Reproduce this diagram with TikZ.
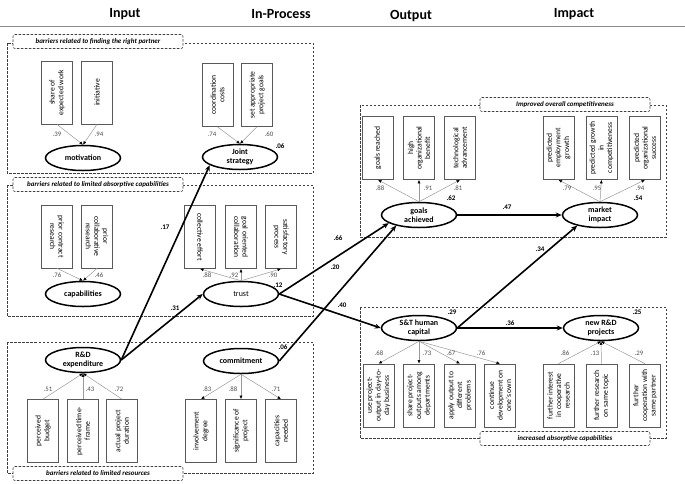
\documentclass[tikz,border=0pt]{standalone}
\usepackage{fontspec}
\setmainfont{Carlito}
\usetikzlibrary{shapes.geometric, arrows.meta, positioning}

\begin{document}
\begin{tikzpicture}[
    x=1pt, y=-1pt,
    latent/.style={draw, ellipse, line width=1.5pt, minimum width=75pt, minimum height=25pt, inner sep=0pt, align=center, font=\fontsize{8}{9}\selectfont\bfseries},
    indbase/.style={draw=black!65, line width=0.7pt, rectangle, minimum width=63pt, minimum height=31pt, inner sep=1pt, align=center, font=\fontsize{7.6}{8.6}\selectfont},
    ind/.style={indbase, rotate=90},
    indr/.style={indbase, rotate=-90},
    region/.style={draw=black!75, dash pattern=on 2.5pt off 1.5pt, line width=0.6pt},
    tag/.style={draw=black!75, dash pattern=on 2.5pt off 1.5pt, line width=0.6pt, fill=white, rounded corners=2pt, minimum width=170pt, minimum height=14pt, inner sep=1pt, font=\fontsize{7}{8}\selectfont\bfseries\itshape},
    head/.style={font=\fontsize{14}{16}\selectfont\bfseries},
    load/.style={draw=black!40, line width=0.5pt, -{Latex[length=3.5pt, width=3pt, color=black]}},
    arrow/.style={line width=1.6pt, -{Stealth[length=6pt, width=5pt]}},
    coef/.style={font=\fontsize{7}{8}\selectfont\bfseries},
    wt/.style={font=\fontsize{6.8}{7}\selectfont, text=black!70},
]
\useasboundingbox (0,0) rectangle (685,483);

% Headings
\node[head] (hin) at (125,14) {Input};
\node[head] (hproc) at (281,14) {In-Process};
\node[head] (hout) at (411,16) {Output};
\node[head] (himp) at (574,14) {Impact};
\draw[black!45, line width=0.8pt] (0,26) -- (685,26);

% Regions
\draw[region] (7,43) rectangle (313,173);
\draw[region] (7,185) rectangle (313,316);
\draw[region] (7,342) rectangle (313,473);
\draw[region] (360,105) rectangle (666,237);
\draw[region] (360,307) rectangle (666,438);
\node[tag] (tpartner) at (98,41.5) {barriers related to finding the right partner};
\node[tag] (tabsorb) at (98,184.5) {barriers related to limited absorptive capabilities};
\node[tag] (tresource) at (98,473.5) {barriers related to limited resources};
\node[tag] (tcompet) at (565,104.5) {Improved overall competitiveness};
\node[tag] (tincr) at (565,438.5) {increased absorptive capabilities};

% Latent variables
\node[latent] (mot) at (83,158) {motivation};
\node[latent] (joint) at (240,157) {Joint\\strategy};
\node[latent] (capab) at (83,294) {capabilities};
\node[latent, font=\fontsize{8}{9}\selectfont] (trust) at (241,294) {trust};
\node[latent] (rd) at (83,360) {R\&D\\expenditure};
\node[latent] (commit) at (241,361) {commitment};
\node[latent] (goals) at (419,215) {goals\\achieved};
\node[latent] (market) at (600,215) {market\\impact};
\node[latent] (st) at (419,328) {S\&T human\\capital};
\node[latent] (newrd) at (601,328) {new R\&D\\projects};

% Indicators
\node[ind] (share) at (57,92.5) {share of\\expected work};
\node[ind] (initv) at (97,92.5) {initiative};
\node[ind] (coord) at (217.5,95) {coordination\\costs};
\node[ind] (setgoals) at (257,95) {set appropriate\\project goals};
\node[indr] (priorcon) at (57,236.5) {prior contract\\research};
\node[indr] (priorcol) at (97,236.5) {prior\\collaborative\\research};
\node[indr] (colleff) at (200,237) {collective effort};
\node[indr] (goalor) at (241,237) {goal oriented\\collaboration};
\node[indr] (satis) at (281,237) {satisfactory\\process};
\node[ind] (budget) at (43,431) {perceived\\budget};
\node[ind] (tframe) at (83,431) {perceived time-\\frame};
\node[ind] (durat) at (122,431) {actual project\\duration};
\node[ind] (involve) at (201,431) {involvement\\degree};
\node[ind] (signif) at (241,431) {significance of\\project};
\node[ind] (capac) at (281,431) {capacities\\needed};
\node[ind] (goalsr) at (378,148) {goals reached};
\node[ind] (highorg) at (419,148) {high\\organizational\\benefit};
\node[ind] (techadv) at (460,148) {technological\\advancement};
\node[ind] (employ) at (558.5,148) {predicted\\employment\\growth};
\node[ind] (growthc) at (601.5,148) {predicted growth\\in\\competitiveness};
\node[ind] (orgsucc) at (645,148) {predicted\\organizational\\success};
\node[ind] (useout) at (378.5,395.5) {use project-\\output in day-to-\\day business};
\node[ind] (shareout) at (419,395.5) {share project-\\outputs among\\departments};
\node[ind] (apply) at (460,395.5) {apply output to\\different\\problems};
\node[ind] (contdev) at (500,395.5) {continue\\development on\\one's own};
\node[ind] (furtint) at (558.5,395.5) {further interest\\in cooperative\\research};
\node[ind] (furtres) at (601.5,395.5) {further research\\on same topic};
\node[ind] (furtcoop) at (645,395.5) {further\\cooperation with\\same partner};

% Loadings
\draw[load] (share.west) -- (mot.north);
\draw[load] (initv.west) -- (mot.north);
\draw[load] (coord.west) -- (joint.north);
\draw[load] (setgoals.west) -- (joint.north);
\draw[load] (priorcon.east) -- (capab.north);
\draw[load] (priorcol.east) -- (capab.north);
\draw[load] (trust.north) -- (colleff.east);
\draw[load] (trust.north) -- (goalor.east);
\draw[load] (trust.north) -- (satis.east);
\draw[load] (budget.east) -- (rd.south);
\draw[load] (tframe.east) -- (rd.south);
\draw[load] (durat.east) -- (rd.south);
\draw[load] (commit.south) -- (involve.east);
\draw[load] (commit.south) -- (signif.east);
\draw[load] (commit.south) -- (capac.east);
\draw[load] (goals.north) -- (goalsr.west);
\draw[load] (goals.north) -- (highorg.west);
\draw[load] (goals.north) -- (techadv.west);
\draw[load] (market.north) -- (employ.west);
\draw[load] (market.north) -- (growthc.west);
\draw[load] (market.north) -- (orgsucc.west);
\draw[load] (st.south) -- (useout.east);
\draw[load] (st.south) -- (shareout.east);
\draw[load] (st.south) -- (apply.east);
\draw[load] (st.south) -- (contdev.east);
\draw[load] (furtint.east) -- (newrd.south);
\draw[load] (furtres.east) -- (newrd.south);
\draw[load] (furtcoop.east) -- (newrd.south);

% Loading values
\node[wt] (w1) at (57,134) {.39};
\node[wt] (w2) at (99,134) {.94};
\node[wt] (w3) at (212,134) {.74};
\node[wt] (w4) at (269,134) {.60};
\node[wt] (w5) at (57,275) {.76};
\node[wt] (w6) at (99,275) {.46};
\node[wt] (w7) at (207,275) {.88};
\node[wt] (w8) at (234,275) {.92};
\node[wt] (w9) at (273,275) {.90};
\node[wt] (w10) at (48,389) {.51};
\node[wt] (w11) at (90,389) {.43};
\node[wt] (w12) at (119,389) {.72};
\node[wt] (w13) at (207,389) {.83};
\node[wt] (w14) at (233,389) {.88};
\node[wt] (w15) at (276,389) {.71};
\node[wt] (w16) at (380,188) {.88};
\node[wt] (w17) at (428,188) {.91};
\node[wt] (w18) at (458,188) {.81};
\node[wt] (w19) at (567,188) {.79};
\node[wt] (w20) at (597,188) {.95};
\node[wt] (w21) at (640,188) {.94};
\node[wt] (w22) at (379,353) {.68};
\node[wt] (w23) at (427,353) {.73};
\node[wt] (w24) at (451,353) {.67};
\node[wt] (w25) at (481,353) {.76};
\node[wt] (w26) at (565,353) {.86};
\node[wt] (w27) at (595,353) {.13};
\node[wt] (w28) at (639,353) {.29};

% Paths
\draw[arrow] (rd.east) -- (joint.195);
\draw[arrow] (rd.east) -- (trust.west);
\draw[arrow] (trust.east) -- (goals.195);
\draw[arrow] (commit.east) -- (goals.205);
\draw[arrow] (trust.east) -- (st.west);
\draw[arrow] (goals.east) -- (market.west);
\draw[arrow] (st.east) -- (market.205);
\draw[arrow] (st.east) -- (newrd.west);

% Path values and R-squared
\node[coef] (c1) at (165,227) {.17};
\node[coef] (c2) at (175,308) {.31};
\node[coef] (c3) at (338,238) {.66};
\node[coef] (c4) at (335,267) {.20};
\node[coef] (c5) at (342,305) {.40};
\node[coef] (c6) at (507,207) {.47};
\node[coef] (c7) at (540,249) {.34};
\node[coef] (c8) at (510,323) {.36};
\node[coef] (r1) at (280,146) {.06};
\node[coef] (r2) at (278,285) {.12};
\node[coef] (r3) at (283,347) {.06};
\node[coef] (r4) at (451,198) {.62};
\node[coef] (r5) at (638,198) {.54};
\node[coef] (r6) at (452,312) {.29};
\node[coef] (r7) at (637,312) {.25};

\end{tikzpicture}
\end{document}
